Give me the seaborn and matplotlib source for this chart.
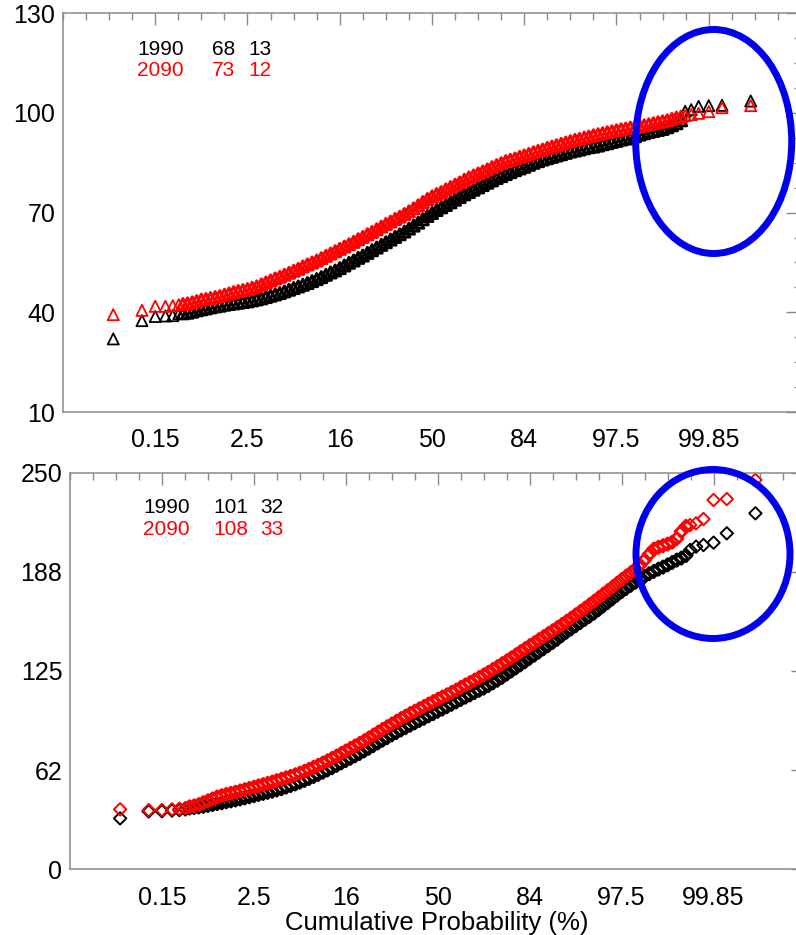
import numpy as np
import pandas as pd
import matplotlib
matplotlib.use("Agg")
import matplotlib.pyplot as plt
import seaborn as sns
from matplotlib.patches import Ellipse
from matplotlib.ticker import FixedLocator, MultipleLocator

# ---------------- data ----------------
# x positions are normal scores (probability axis): sparse tails + regular band
z_low_tail = [-3.455, -3.144, -3.0, -2.89, -2.81, -2.745]
z_high_tail = [2.745, 2.81, 2.89, 3.0, 3.144, 3.455]
z_band = np.round(np.arange(-2.70, 2.7001, 0.05), 2)

tick_z = [-3, -2, -1, 0, 1, 2, 3]
tick_labels = ["0.15", "2.5", "16", "50", "84", "97.5", "99.85"]

# top panel (triangles)
top_1990_low = [32.0, 37.5, 38.75, 38.9, 39.0, 39.6]
top_1990_band = [39.7, 39.9, 40.2, 40.6, 40.9, 41.2, 41.5, 41.8, 42.0, 42.3,
                 42.5, 42.7, 42.9, 43.1, 43.3, 43.6, 43.9, 44.2, 44.6, 45.0,
                 45.4, 45.8, 46.3, 46.8, 47.3, 47.8, 48.3, 48.8, 49.4, 50.0,
                 50.6, 51.3, 52.0, 52.6, 53.3, 54.1, 54.9, 55.6, 56.4, 57.1,
                 57.9, 58.7, 59.5, 60.3, 61.1, 61.9, 62.7, 63.5, 64.3, 65.2,
                 66.1, 67.0, 68.0, 69.0, 69.9, 70.8, 71.6, 72.3, 73.1, 73.9,
                 74.7, 75.5, 76.2, 76.9, 77.6, 78.3, 79.0, 79.7, 80.4, 81.0,
                 81.6, 82.2, 82.8, 83.3, 83.8, 84.4, 85.0, 85.5, 86.0, 86.4,
                 86.8, 87.2, 87.6, 88.0, 88.4, 88.7, 89.0, 89.4, 89.7, 89.9,
                 90.2, 90.6, 90.9, 91.3, 91.6, 92.0, 92.3, 92.6, 93.0, 93.5,
                 93.9, 94.3, 94.6, 94.9, 95.2, 95.7, 96.3, 96.9, 97.8]
top_1990_high = [100.5, 101.0, 102.0, 102.2, 102.3, 103.6]

top_2090_low = [39.3, 40.6, 41.8, 41.8, 42.0, 42.3]
top_2090_band = [42.5, 42.7, 43.0, 43.4, 43.8, 44.0, 44.3, 44.6, 44.9, 45.3,
                 45.7, 46.1, 46.4, 46.7, 47.0, 47.4, 47.8, 48.4, 49.0, 49.6,
                 50.2, 50.7, 51.3, 51.9, 52.5, 53.1, 53.8, 54.4, 55.0, 55.6,
                 56.3, 57.0, 57.7, 58.4, 59.1, 59.8, 60.5, 61.2, 62.0, 62.7,
                 63.5, 64.2, 65.0, 65.8, 66.6, 67.3, 68.1, 68.8, 69.6, 70.4,
                 71.3, 72.2, 73.2, 74.1, 74.9, 75.6, 76.2, 77.0, 77.7, 78.4,
                 79.1, 79.9, 80.6, 81.2, 81.8, 82.4, 83.0, 83.7, 84.3, 84.9,
                 85.5, 85.9, 86.3, 86.8, 87.2, 87.7, 88.2, 88.6, 89.0, 89.5,
                 89.9, 90.3, 90.7, 91.1, 91.5, 91.9, 92.2, 92.6, 92.9, 93.3,
                 93.6, 93.9, 94.2, 94.5, 94.8, 95.1, 95.3, 95.6, 95.8, 96.1,
                 96.3, 96.6, 96.9, 97.2, 97.5, 97.8, 98.2, 98.6, 98.9]
top_2090_high = [99.2, 99.5, 99.9, 100.4, 101.6, 102.2]

# bottom panel (diamonds)
bot_1990_low = [32.1, 36.5, 36.6, 37.0, 37.3, 37.7]
bot_1990_band = [38.6, 38.9, 39.3, 39.7, 40.2, 40.8, 41.4, 41.9, 42.5, 43.1,
                 43.7, 44.3, 45.0, 45.7, 46.4, 47.1, 47.8, 48.5, 49.2, 50.0,
                 50.8, 51.8, 52.8, 53.8, 54.9, 56.0, 57.2, 58.5, 59.8, 61.2,
                 62.6, 64.0, 65.5, 67.0, 68.5, 70.0, 71.5, 73.0, 74.6, 76.3,
                 78.0, 79.7, 81.4, 83.0, 84.7, 86.2, 87.8, 89.3, 90.8, 92.3,
                 93.8, 95.2, 96.7, 98.1, 99.6, 101.0, 102.5, 104.0, 105.5, 107.0,
                 108.5, 109.9, 111.4, 112.8, 114.2, 115.8, 117.5, 119.2, 121.0, 123.0,
                 125.0, 126.9, 128.9, 130.9, 133.0, 135.0, 137.0, 139.0, 141.0, 143.0,
                 145.0, 147.3, 149.5, 151.5, 153.5, 155.5, 157.5, 159.5, 161.5, 163.7,
                 166.0, 168.2, 170.5, 172.8, 175.0, 177.0, 179.0, 181.0, 182.8, 184.6,
                 186.3, 187.8, 189.2, 190.5, 191.9, 193.4, 194.9, 196.2, 197.8]
bot_1990_high = [201.3, 203.4, 204.4, 205.9, 211.8, 224.4]

bot_2090_low = [37.8, 37.3, 37.4, 37.8, 38.2, 38.7]
bot_2090_band = [39.4, 40.0, 40.8, 42.0, 43.2, 44.4, 45.6, 46.4, 47.2, 47.9,
                 48.6, 49.4, 50.2, 51.0, 51.8, 52.6, 53.4, 54.2, 55.0, 55.9,
                 56.8, 57.7, 58.6, 59.6, 60.6, 61.8, 63.0, 64.3, 65.6, 67.0,
                 68.4, 69.9, 71.4, 73.0, 74.6, 76.2, 77.8, 79.4, 81.0, 82.8,
                 84.6, 86.4, 88.2, 89.9, 91.6, 93.3, 95.0, 96.6, 98.2, 99.7,
                 101.2, 102.7, 104.2, 105.7, 107.2, 108.6, 110.0, 111.5, 113.0, 114.6,
                 116.2, 117.7, 119.3, 120.9, 122.5, 124.2, 126.0, 127.8, 129.6, 131.4,
                 133.3, 135.2, 137.2, 139.1, 141.0, 142.8, 144.7, 146.6, 148.5, 150.4,
                 152.3, 154.3, 156.3, 158.3, 160.4, 162.5, 164.6, 166.8, 169.0, 171.2,
                 173.5, 175.7, 178.0, 180.3, 182.6, 184.8, 187.0, 189.4, 191.8, 195.0,
                 198.6, 201.8, 203.0, 204.0, 205.0, 206.2, 208.5, 213.0, 216.2]
bot_2090_high = [217.0, 218.1, 220.8, 232.8, 233.4, 245.4]

stats_top = [("1990", "68", "13", "black"), ("2090", "73", "12", "red")]
stats_bot = [("1990", "101", "32", "black"), ("2090", "108", "33", "red")]


def series(low, band, high):
    z = list(z_low_tail) + list(z_band) + list(z_high_tail)
    v = list(low) + list(band) + list(high)
    part = (["tail"] * len(low)) + (["band"] * len(band)) + (["tail"] * len(high))
    return pd.DataFrame({"z": z, "v": v, "part": part})


# ---------------- figure ----------------
sns.set_style("white")
plt.rcParams["font.family"] = ["Liberation Sans", "DejaVu Sans"]
plt.rcParams["text.color"] = "black"

W, H = 796, 935
fig = plt.figure(figsize=(W / 100, H / 100), dpi=100)

ax1 = fig.add_axes([63 / W, 1 - 412 / H, 738 / W, 398.7 / H])
ax2 = fig.add_axes([70 / W, 1 - 869.3 / H, 735.5 / W, 396.6 / H])

GRAY = "#8a8a8a"


def draw(ax, df, marker, color, size, lw_band, lw_tail):
    for part, lw in (("band", lw_band), ("tail", lw_tail)):
        sub = df[df["part"] == part]
        sns.scatterplot(data=sub, x="z", y="v", ax=ax, marker=marker, s=size,
                        color=color, linewidth=lw, legend=False)
        coll = ax.collections[-1]
        coll.set_facecolor("none")
        coll.set_edgecolor(color)
        coll.set_clip_on(False)


draw(ax1, series(top_1990_low, top_1990_band, top_1990_high), "^", "black", 64, 2.1, 1.3)
draw(ax1, series(top_2090_low, top_2090_band, top_2090_high), "^", "red", 64, 2.1, 1.3)
draw(ax2, series(bot_1990_low, bot_1990_band, bot_1990_high), "D", "black", 40, 2.0, 1.4)
draw(ax2, series(bot_2090_low, bot_2090_band, bot_2090_high), "D", "red", 40, 2.0, 1.4)

for ax, ylim, yt, ytl, yminor, xpad in [
    (ax1, (10, 130), [10, 40, 70, 100, 130], ["10", "40", "70", "100", "130"],
     np.arange(10, 130.1, 7.5), 11.5),
    (ax2, (0, 250), [0, 62.5, 125, 187.5, 250], ["0", "62", "125", "188", "250"],
     np.arange(0, 250.1, 15.625), 12.0),
]:
    ax.set_xlim(-4, 4)
    ax.set_ylim(*ylim)
    ax.set_xticks(tick_z)
    ax.set_xticklabels(tick_labels)
    ax.xaxis.set_minor_locator(MultipleLocator(0.25))
    ax.set_yticks(yt)
    ax.set_yticklabels(ytl)
    ax.yaxis.set_minor_locator(FixedLocator(yminor))
    ax.set_xlabel("")
    ax.set_ylabel("")
    for sp in ax.spines.values():
        sp.set_visible(True)
        sp.set_color(GRAY)
        sp.set_linewidth(1.1)
    ax.tick_params(axis="both", which="both", direction="in", top=True,
                   right=True, color=GRAY, width=1.0, labelsize=18,
                   labelcolor="black")
    ax.tick_params(axis="x", which="major", length=8.5, pad=xpad)
    ax.tick_params(axis="y", which="major", length=10.5, pad=5.5)
    ax.tick_params(axis="both", which="minor", length=5)

# x axis title
fig.text(437 / W, 1 - 930 / H, "Cumulative Probability (%)", fontsize=18.5,
         color="black", ha="center", va="baseline")

# statistics text
for stats, base_y, cols in [(stats_top, [55, 76], [137, 212, 248]),
                            (stats_bot, [513, 535], [143, 213, 260])]:
    for (yr, mean, sd, col), by in zip(stats, base_y):
        for txt, cx in zip((yr, mean, sd), cols):
            fig.text(cx / W, 1 - by / H, txt, fontsize=15, color=col,
                     ha="left", va="baseline")

# blue highlight ellipses
for cx, cy, ew, eh in [(713.7, 141.5, 156, 224), (713, 554, 154, 169)]:
    fig.patches.append(Ellipse((cx / W, 1 - cy / H), ew / W, eh / H,
                               transform=fig.transFigure, fill=False,
                               ec="#0000ee", lw=5.0, zorder=10))

fig.savefig("out.png", dpi=100)
